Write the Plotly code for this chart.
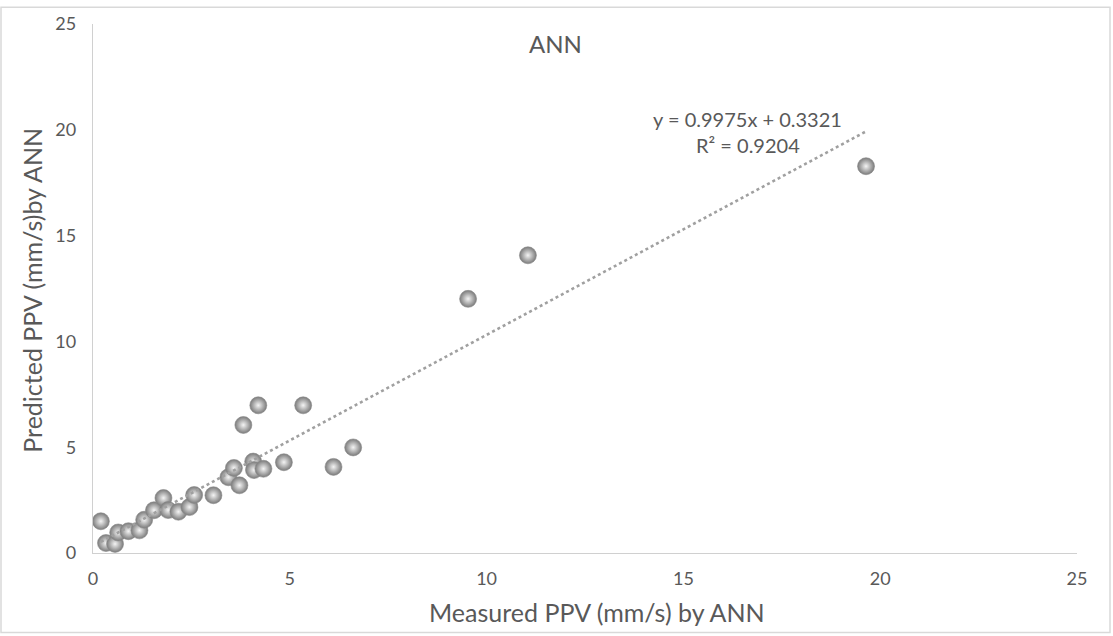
import plotly.graph_objects as go

# Measured vs predicted peak particle velocity (mm/s)
measured = [0.20, 0.33, 0.56, 0.64, 0.90, 1.18, 1.30, 1.55, 1.79, 1.91,
            2.17, 2.45, 2.57, 3.06, 3.44, 3.58, 3.72, 3.82, 4.07, 4.09,
            4.33, 4.20, 4.85, 5.34, 6.11, 6.61, 9.53, 11.05, 19.64]
predicted = [1.50, 0.47, 0.43, 0.97, 1.03, 1.07, 1.57, 2.02, 2.60, 2.03,
             1.95, 2.17, 2.74, 2.73, 3.58, 4.02, 3.20, 6.05, 4.32, 3.92,
             3.98, 6.98, 4.29, 6.98, 4.07, 4.99, 12.01, 14.07, 18.28]

# Linear trendline reported on the chart
slope = 0.9975
intercept = 0.3321
r_squared = 0.9204

tick_vals = [0, 5, 10, 15, 20, 25]

W, H = 1113, 636
M_L, M_R, M_T, M_B = 93, 36, 18, 82.5
PW, PH = W - M_L - M_R, H - M_T - M_B

def px_x(p):
    return (p - M_L) / PW

def px_y(p):
    return (H - M_B - p) / PH

text_col = "#595959"
font_family = "Lato, 'Open Sans', sans-serif"

x_lo, x_hi = min(measured), max(measured)
trend_x = [x_lo, x_hi]
trend_y = [slope * v + intercept for v in trend_x]

fig = go.Figure()

# sphere-like markers: darker rim, light centre
fig.add_trace(go.Scatter(
    x=measured, y=predicted, mode="markers",
    marker=dict(size=17, color="#7a7a7a",
                gradient=dict(type="radial", color="#f4f4f4"),
                line=dict(width=0.6, color="#8c8c8c")),
    showlegend=False, hoverinfo="x+y",
))

fig.add_trace(go.Scatter(
    x=trend_x, y=trend_y, mode="lines",
    line=dict(color="#a0a0a0", width=2.6, dash="dot"),
    showlegend=False, hoverinfo="skip",
))

axis_common = dict(
    range=[0, 25], tickvals=tick_vals, showgrid=False, zeroline=False,
    showline=True, linecolor="#d0d0d0", linewidth=1.3, ticks="",
    tickfont=dict(family=font_family, size=18, color=text_col),
    fixedrange=True,
)

def label(text, x, y, size, angle=0):
    return dict(text=text, x=px_x(x), y=px_y(y), xref="paper", yref="paper",
                xanchor="center", yanchor="middle", showarrow=False,
                textangle=angle, font=dict(size=size, color=text_col))

fig.update_layout(
    width=W, height=H,
    margin=dict(l=M_L, r=M_R, t=M_T, b=M_B),
    paper_bgcolor="white", plot_bgcolor="white",
    xaxis=dict(**axis_common, ticklabelstandoff=9),
    yaxis=dict(**axis_common, ticklabelstandoff=12),
    font=dict(family=font_family, color=text_col),
    annotations=[
        label("ANN", 555, 38, 24),
        label("Measured PPV (mm/s) by ANN", 597, 613, 25),
        label("Predicted PPV (mm/s)by ANN", 32, 288, 25, -90),
        label(f"y = {slope}x + {intercept}", 747, 114, 20),
        label(f"R² = {r_squared}", 748, 140, 20),
    ],
    shapes=[
        dict(type="rect", xref="paper", yref="paper",
             x0=px_x(1), x1=px_x(1110), y0=px_y(634), y1=px_y(1),
             line=dict(color="#d9d9d9", width=1.5), fillcolor="rgba(0,0,0,0)",
             layer="below"),
    ],
)

fig.write_html("out.html")
